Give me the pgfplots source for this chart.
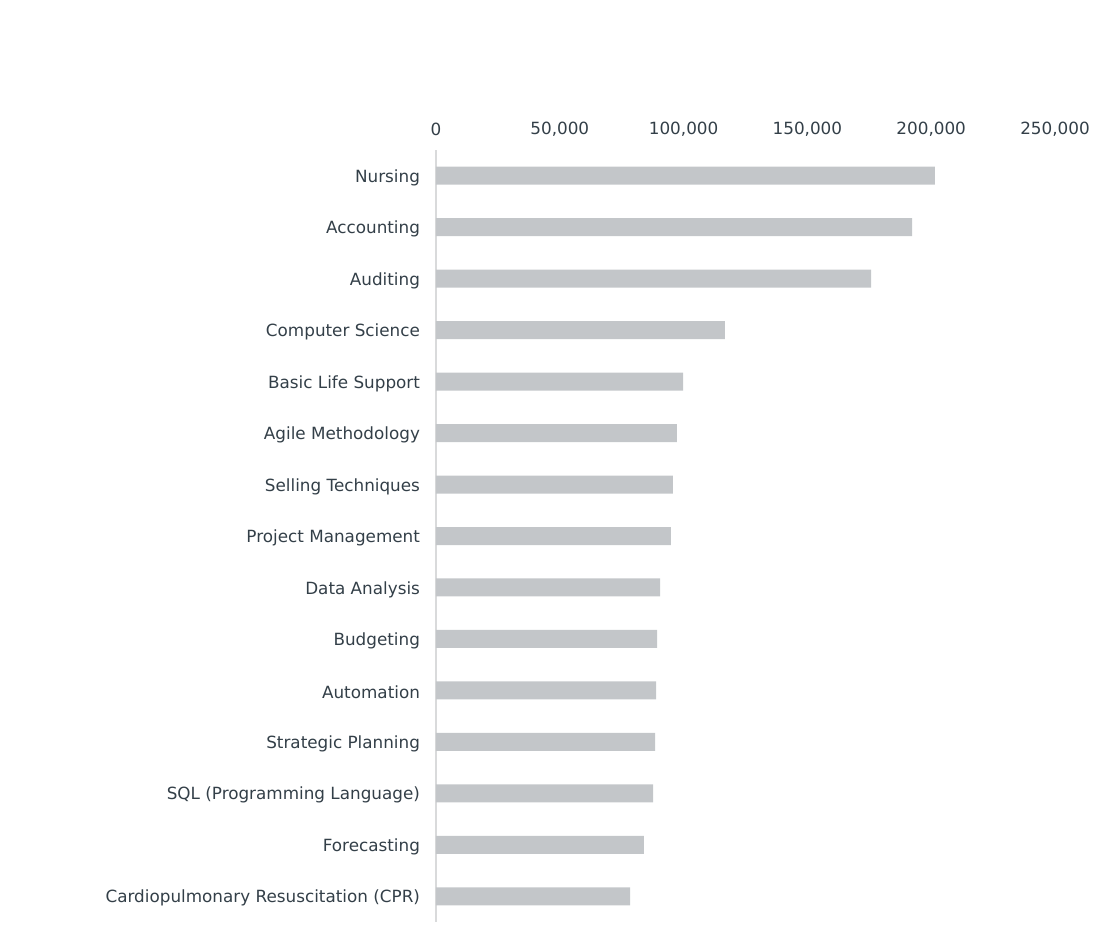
\documentclass[border=0pt]{standalone}
\usepackage{pgfplots}
\pgfplotsset{compat=1.18}
\usepackage{fontspec}
\setmainfont{DejaVu Sans}
\definecolor{barfill}{HTML}{C3C6C9}
\definecolor{txt}{HTML}{333F48}
\definecolor{axisline}{HTML}{D9DADB}

\pgfplotstableread[col sep=comma]{
idx,value
0,201500
1,192300
2,175700
3,116700
4,99800
5,97300
6,95700
7,94900
8,90500
9,89300
10,88900
11,88500
12,87700
13,84000
14,78400
}\skilltable

\begin{document}
\begin{tikzpicture}
\useasboundingbox (-327pt,-12.75pt) rectangle (500.25pt,691.5pt);
\begin{axis}[
    scale only axis,
    width=464.25pt,
    height=579pt,
    xbar,
    bar width=0.35,
    xmin=0, xmax=250000,
    ymin=-0.5, ymax=14.5,
    y dir=reverse,
    axis x line*=top,
    axis y line*=left,
    x axis line style={draw=none},
    y axis line style={draw=axisline, line width=1.5pt},
    xtick={0,50000,...,250000},
    ytick={0,1,...,14},
    yticklabels={Nursing,Accounting,Auditing,Computer Science,Basic Life Support,Agile Methodology,Selling Techniques,Project Management,Data Analysis,Budgeting,Automation,Strategic Planning,SQL (Programming Language),Forecasting,Cardiopulmonary Resuscitation (CPR)},
    major tick length=0pt,
    scaled x ticks=false,
    /pgf/number format/fixed,
    /pgf/number format/1000 sep={,},
    /pgf/number format/assume math mode=true,
    ticklabel style={font=\fontsize{12.6}{14}\selectfont, text=txt},
    xticklabel shift=7pt,
    yticklabel shift=8.5pt,
    yticklabel style={yshift=-1.5pt},
    clip=false,
]
\addplot[fill=barfill, draw=none] table[x=value, y=idx] {\skilltable};
\end{axis}
\end{tikzpicture}
\end{document}
